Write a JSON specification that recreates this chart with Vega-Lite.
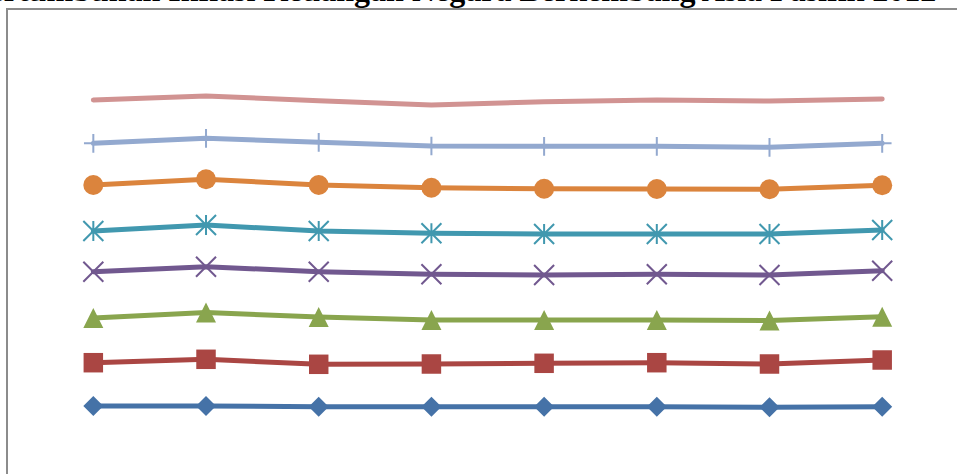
{
  "$schema": "https://vega.github.io/schema/vega-lite/v6.json",
  "autosize": "none",
  "padding": {"left": 7, "top": 9, "right": -30, "bottom": -30},
  "width": 980,
  "height": 495,
  "background": "white",
  "config": {"view": {"stroke": "#8c8c8c", "strokeWidth": 2}},
  "title": {
    "text": "Pertumbuhan Inflasi Keuangan Negara Berkembang Asia Pasifik 2012 - 2019",
    "anchor": "start",
    "frame": "group",
    "align": "left",
    "baseline": "alphabetic",
    "dx": -37,
    "dy": 28,
    "offset": 4,
    "font": "Liberation Serif",
    "fontSize": 32,
    "fontWeight": "bold",
    "color": "#000000"
  },
  "data": {
    "values": [
      {"year": 2012, "series": "Seri 1", "value": 4.40},
      {"year": 2013, "series": "Seri 1", "value": 4.40},
      {"year": 2014, "series": "Seri 1", "value": 4.33},
      {"year": 2015, "series": "Seri 1", "value": 4.33},
      {"year": 2016, "series": "Seri 1", "value": 4.33},
      {"year": 2017, "series": "Seri 1", "value": 4.33},
      {"year": 2018, "series": "Seri 1", "value": 4.27},
      {"year": 2019, "series": "Seri 1", "value": 4.33},
      {"year": 2012, "series": "Seri 2", "value": 4.33},
      {"year": 2013, "series": "Seri 2", "value": 4.67},
      {"year": 2014, "series": "Seri 2", "value": 4.24},
      {"year": 2015, "series": "Seri 2", "value": 4.27},
      {"year": 2016, "series": "Seri 2", "value": 4.34},
      {"year": 2017, "series": "Seri 2", "value": 4.40},
      {"year": 2018, "series": "Seri 2", "value": 4.33},
      {"year": 2019, "series": "Seri 2", "value": 4.67},
      {"year": 2012, "series": "Seri 3", "value": 4.47},
      {"year": 2013, "series": "Seri 3", "value": 4.68},
      {"year": 2014, "series": "Seri 3", "value": 4.73},
      {"year": 2015, "series": "Seri 3", "value": 4.40},
      {"year": 2016, "series": "Seri 3", "value": 4.33},
      {"year": 2017, "series": "Seri 3", "value": 4.27},
      {"year": 2018, "series": "Seri 3", "value": 4.35},
      {"year": 2019, "series": "Seri 3", "value": 4.33},
      {"year": 2012, "series": "Seri 4", "value": 4.63},
      {"year": 2013, "series": "Seri 4", "value": 4.58},
      {"year": 2014, "series": "Seri 4", "value": 4.53},
      {"year": 2015, "series": "Seri 4", "value": 4.57},
      {"year": 2016, "series": "Seri 4", "value": 4.50},
      {"year": 2017, "series": "Seri 4", "value": 4.57},
      {"year": 2018, "series": "Seri 4", "value": 4.55},
      {"year": 2019, "series": "Seri 4", "value": 4.60},
      {"year": 2012, "series": "Seri 5", "value": 4.07},
      {"year": 2013, "series": "Seri 5", "value": 4.17},
      {"year": 2014, "series": "Seri 5", "value": 4.07},
      {"year": 2015, "series": "Seri 5", "value": 4.10},
      {"year": 2016, "series": "Seri 5", "value": 4.10},
      {"year": 2017, "series": "Seri 5", "value": 4.03},
      {"year": 2018, "series": "Seri 5", "value": 4.10},
      {"year": 2019, "series": "Seri 5", "value": 4.07},
      {"year": 2012, "series": "Seri 6", "value": 4.60},
      {"year": 2013, "series": "Seri 6", "value": 4.57},
      {"year": 2014, "series": "Seri 6", "value": 4.60},
      {"year": 2015, "series": "Seri 6", "value": 4.56},
      {"year": 2016, "series": "Seri 6", "value": 4.53},
      {"year": 2017, "series": "Seri 6", "value": 4.50},
      {"year": 2018, "series": "Seri 6", "value": 4.47},
      {"year": 2019, "series": "Seri 6", "value": 4.47},
      {"year": 2012, "series": "Seri 7", "value": 4.17},
      {"year": 2013, "series": "Seri 7", "value": 4.10},
      {"year": 2014, "series": "Seri 7", "value": 4.27},
      {"year": 2015, "series": "Seri 7", "value": 4.17},
      {"year": 2016, "series": "Seri 7", "value": 4.24},
      {"year": 2017, "series": "Seri 7", "value": 4.27},
      {"year": 2018, "series": "Seri 7", "value": 4.20},
      {"year": 2019, "series": "Seri 7", "value": 4.20},
      {"year": 2012, "series": "Seri 8", "value": 4.33},
      {"year": 2013, "series": "Seri 8", "value": 4.23},
      {"year": 2014, "series": "Seri 8", "value": 4.16},
      {"year": 2015, "series": "Seri 8", "value": 4.10},
      {"year": 2016, "series": "Seri 8", "value": 4.46},
      {"year": 2017, "series": "Seri 8", "value": 4.63},
      {"year": 2018, "series": "Seri 8", "value": 4.63},
      {"year": 2019, "series": "Seri 8", "value": 4.43}
    ]
  },
  "transform": [
    {"stack": "value", "groupby": ["year"], "sort": [{"field": "series", "order": "ascending"}], "as": ["v0", "v1"]}
  ],
  "encoding": {
    "x": {
      "field": "year", "type": "quantitative",
      "scale": {"domain": [2011.234, 2019.93], "nice": false, "zero": false},
      "axis": null
    },
    "y": {
      "field": "v1", "type": "quantitative",
      "scale": {"domain": [-5.4, 44.1], "nice": false, "zero": false},
      "axis": null
    },
    "color": {
      "field": "series", "type": "nominal",
      "scale": {
        "domain": ["Seri 1", "Seri 2", "Seri 3", "Seri 4", "Seri 5", "Seri 6", "Seri 7", "Seri 8"],
        "range": ["#4572A7", "#AA4643", "#89A54E", "#71588F", "#4198AF", "#DB843D", "#93A9CF", "#D19392"]
      },
      "legend": null
    }
  },
  "layer": [
    {"mark": {"type": "line", "strokeWidth": 5, "strokeCap": "round", "strokeJoin": "round"}},
    {
      "transform": [{"filter": "datum.series === 'Seri 1'"}],
      "mark": {"type": "point", "shape": "diamond", "filled": true, "size": 400, "opacity": 1}
    },
    {
      "transform": [{"filter": "datum.series === 'Seri 2'"}],
      "mark": {"type": "point", "shape": "square", "filled": true, "size": 380, "opacity": 1}
    },
    {
      "transform": [{"filter": "datum.series === 'Seri 3'"}],
      "mark": {"type": "point", "shape": "M0,-1L1,1L-1,1Z", "filled": true, "size": 400, "opacity": 1}
    },
    {
      "transform": [{"filter": "datum.series === 'Seri 4'"}],
      "mark": {"type": "point", "shape": "M-1,-1L1,1M1,-1L-1,1", "filled": false, "size": 400, "strokeWidth": 2, "opacity": 1}
    },
    {
      "transform": [{"filter": "datum.series === 'Seri 5'"}],
      "mark": {"type": "point", "shape": "M-1,-1L1,1M1,-1L-1,1M0,-1L0,1", "filled": false, "size": 400, "strokeWidth": 2, "opacity": 1}
    },
    {
      "transform": [{"filter": "datum.series === 'Seri 6'"}],
      "mark": {"type": "point", "shape": "circle", "filled": true, "size": 400, "opacity": 1}
    },
    {
      "transform": [{"filter": "datum.series === 'Seri 7'"}],
      "mark": {"type": "point", "shape": "M-1,0L1,0M0,-1L0,1", "filled": false, "size": 350, "strokeWidth": 2, "opacity": 1}
    }
  ]
}
